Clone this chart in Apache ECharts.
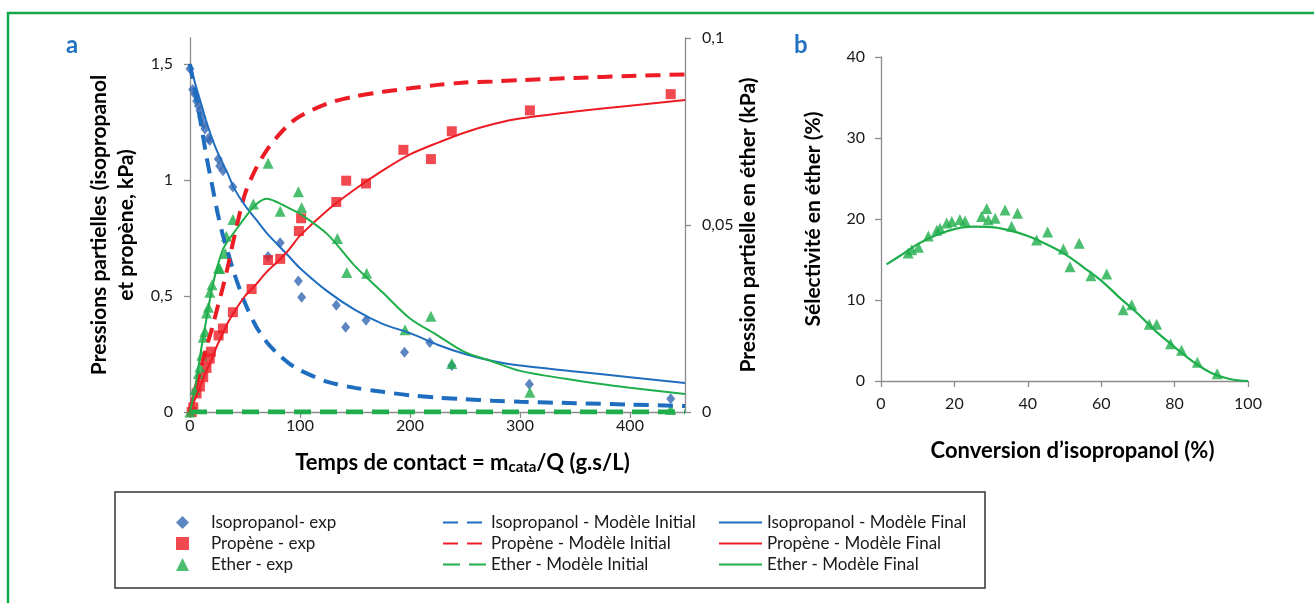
<!DOCTYPE html>
<html><head><meta charset="utf-8">
<script src="https://cdn.jsdelivr.net/npm/echarts@6/dist/echarts.min.js"></script>
<style>html,body{margin:0;padding:0;background:#fff}#c{width:1314px;height:603px}</style>
</head><body><div id="c"></div>
<script>
// ---------- Panel a : experimental points ----------
const isoExpT = [0, 2.4, 4.5, 6, 7.6, 9, 10.6, 12, 13.6, 16.7, 18, 25.7, 27, 30, 39, 71, 82, 98.5, 101.5, 133, 141.5, 160, 195, 218, 238, 308.5, 437];
const isoExpP = [1.48, 1.39, 1.37, 1.34, 1.32, 1.30, 1.27, 1.24, 1.22, 1.18, 1.17, 1.09, 1.06, 1.04, 0.97, 0.67, 0.73, 0.565, 0.495, 0.46, 0.365, 0.395, 0.257, 0.30, 0.20, 0.12, 0.057];
const propExpT = [1.5, 3, 6, 9, 12, 15, 18, 19, 26, 30, 39, 56, 71, 82, 99, 101, 133, 142, 160, 194, 219, 238, 309, 437];
const propExpP = [0, 0.02, 0.08, 0.11, 0.15, 0.19, 0.23, 0.26, 0.33, 0.36, 0.43, 0.53, 0.655, 0.66, 0.78, 0.835, 0.905, 0.997, 0.985, 1.13, 1.09, 1.21, 1.30, 1.37];
const ethExpT = [0, 4.5, 7.6, 9, 10.6, 12, 13.6, 15, 16.7, 18, 20, 26, 27, 32, 33, 39, 57.6, 71, 82, 98.5, 101.5, 134, 142.5, 160.6, 195.5, 219, 238, 309, 437];
const ethExpE = [0, 0.006, 0.0103, 0.012, 0.0152, 0.020, 0.0215, 0.0265, 0.028, 0.032, 0.034, 0.0385, 0.0384, 0.0424, 0.047, 0.0515, 0.0556, 0.0665, 0.0537, 0.0589, 0.0547, 0.0464, 0.0373, 0.0371, 0.022, 0.0256, 0.013, 0.0053, 0.0007];

// ---------- Panel a : model curves ----------
const modelT = [0, 5, 10, 15, 20, 25, 30, 35, 40, 50, 60, 70, 80, 90, 100, 125, 150, 175, 200, 225, 250, 275, 300, 350, 400, 450];
const isoFinal  = [1.5, 1.41, 1.33, 1.25, 1.18, 1.12, 1.07, 1.02, 0.965, 0.89, 0.83, 0.77, 0.72, 0.67, 0.62, 0.52, 0.44, 0.38, 0.34, 0.29, 0.25, 0.22, 0.20, 0.175, 0.15, 0.125];
const isoInit   = [1.5, 1.37, 1.24, 1.10, 0.98, 0.86, 0.76, 0.68, 0.60, 0.47, 0.37, 0.30, 0.25, 0.21, 0.18, 0.13, 0.104, 0.087, 0.072, 0.062, 0.055, 0.049, 0.044, 0.038, 0.032, 0.026];
const propFinal = [0, 0.06, 0.12, 0.18, 0.23, 0.29, 0.34, 0.39, 0.43, 0.50, 0.55, 0.605, 0.65, 0.70, 0.76, 0.87, 0.96, 1.04, 1.11, 1.16, 1.205, 1.24, 1.265, 1.295, 1.32, 1.345];
const propInit  = [0, 0.10, 0.19, 0.28, 0.36, 0.45, 0.54, 0.64, 0.75, 0.94, 1.05, 1.13, 1.19, 1.24, 1.275, 1.33, 1.36, 1.38, 1.395, 1.41, 1.42, 1.425, 1.43, 1.44, 1.448, 1.455];
const ethFinal  = [0, 0.007, 0.0165, 0.025, 0.033, 0.039, 0.0435, 0.046, 0.048, 0.052, 0.0555, 0.057, 0.056, 0.0545, 0.053, 0.0475, 0.039, 0.032, 0.025, 0.0205, 0.016, 0.0135, 0.011, 0.0085, 0.0065, 0.0048];
const ethInit   = [0, 0, 0, 0, 0, 0, 0, 0, 0, 0, 0, 0, 0, 0, 0, 0, 0, 0, 0, 0, 0, 0, 0, 0, 0, 0];

// ---------- Panel b ----------
const convExp = [7.4, 8.4, 10.2, 12.9, 15.2, 16.1, 17.9, 19.3, 21.5, 22.9, 27.4, 28.8, 29.2, 31.1, 33.8, 35.6, 37.2, 42.4, 45.4, 49.7, 51.5, 54, 57.2, 61.5, 66.0, 68.3, 73.1, 75.1, 78.9, 81.9, 86.2, 91.6];
const selExp  = [15.8, 16.2, 16.5, 17.9, 18.6, 18.85, 19.5, 19.7, 19.95, 19.75, 20.3, 21.3, 19.9, 20.1, 21.1, 19.1, 20.7, 17.4, 18.4, 16.3, 14.1, 17.0, 13.0, 13.2, 8.8, 9.4, 7.0, 7.0, 4.6, 3.8, 2.3, 0.9];
const convModel = [1.5, 5, 10, 15, 20, 25, 30, 35, 40, 45, 50, 55, 60, 65, 70, 75, 80, 85, 90, 95, 100];
const selModel  = [14.4, 15.4, 16.9, 18.0, 18.75, 19.05, 19.0, 18.6, 17.9, 16.9, 15.7, 14.1, 12.4, 10.3, 8.3, 6.1, 4.2, 2.4, 1.0, 0.25, 0];

// ---------- tick labels ----------
const aXTicks = [0, 100, 200, 300, 400];
const aYLeftTicks = [0, 0.5, 1, 1.5];
const aYRightTicks = [0, 0.05, 0.1];

const zip = (a, b) => a.map((v, i) => [v, b[i]]);
const comma = v => String(v).replace('.', ',');

const BLUE = '#1f6dbf', BLUE_M = '#3567b3', RED = '#ed1c24', GREEN = '#1fae4b';
const FONT = 'Lato';
const AX = '#8c8c8c';
const lblStyle = { color: '#1a1a1a', fontSize: 16, fontFamily: FONT };
const nameStyleL = { color: '#000', fontSize: 21, fontWeight: 'bold', fontFamily: FONT, lineHeight: 27 };
const nameStyle = { color: '#000', fontSize: 21, fontWeight: 'bold', fontFamily: FONT };
const axisBase = {
  axisLine: { show: true, lineStyle: { color: AX, width: 1.3 } },
  axisTick: { show: true, length: 6, lineStyle: { color: AX, width: 1.3 } },
  splitLine: { show: false }
};

const chart = echarts.init(document.getElementById('c'), null, { renderer: 'canvas' });

const names = {
  isoE: 'Isopropanol- exp', propE: 'Propène - exp', ethE: 'Ether - exp',
  isoI: 'Isopropanol - Modèle Initial', propI: 'Propène - Modèle Initial', ethI: 'Ether - Modèle Initial',
  isoF: 'Isopropanol - Modèle Final', propF: 'Propène - Modèle Final', ethF: 'Ether - Modèle Final'
};

const legendText = { color: '#1a1a1a', fontSize: 17, fontFamily: FONT };

chart.setOption({
  animation: false,
  backgroundColor: '#fff',
  graphic: [
    { type: 'rect', shape: { x: 8, y: 13, width: 1330, height: 640 }, style: { fill: 'none', stroke: '#10a84a', lineWidth: 2.5 }, z: 100 },
    { type: 'rect', shape: { x: 115, y: 492, width: 870, height: 96 }, style: { fill: 'none', stroke: '#333', lineWidth: 1.5 }, z: 100 },
    { type: 'text', left: 66, top: 33, style: { text: 'a', fill: '#2472c0', font: 'bold 24px ' + FONT }, z: 100 },
    { type: 'text', left: 794, top: 33, style: { text: 'b', fill: '#2472c0', font: 'bold 24px ' + FONT }, z: 100 }
  ],
  legend: [
    { orient: 'vertical', left: 171, top: 509, itemWidth: 13, itemHeight: 13, itemGap: 4, selectedMode: false,
      textStyle: Object.assign({ padding: [0, 0, 0, 17] }, legendText),
      data: [{ name: names.isoE, icon: 'diamond' }, { name: names.propE, icon: 'rect' }, { name: names.ethE, icon: 'triangle' }] },
    { orient: 'vertical', left: 437, top: 509, itemWidth: 43, itemHeight: 14, itemGap: 4, selectedMode: false, textStyle: legendText,
      itemStyle: { opacity: 0 }, data: [names.isoI, names.propI, names.ethI] },
    { orient: 'vertical', left: 713, top: 509, itemWidth: 43, itemHeight: 14, itemGap: 4, selectedMode: false, textStyle: legendText,
      itemStyle: { opacity: 0 }, data: [names.isoF, names.propF, names.ethF] }
  ],
  grid: [
    { left: 190, right: 629, top: 38, bottom: 191, containLabel: false },
    { left: 881, right: 66, top: 57, bottom: 222, containLabel: false }
  ],
  xAxis: [
    Object.assign({}, axisBase, {
      type: 'value', gridIndex: 0, min: 0, max: 450,
      axisLabel: Object.assign({ customValues: aXTicks, margin: 6 }, lblStyle),
      axisTick: Object.assign({}, axisBase.axisTick, { customValues: aXTicks }),
      name: '{b|Temps de contact = m}{s|cata}{b|/Q (g.s/L)}', nameLocation: 'middle', nameGap: 38,
      nameTextStyle: { padding: [0, 0, 0, 50], rich: {
        b: { fontSize: 22, fontWeight: 'bold', fontFamily: FONT, color: '#000' },
        s: { fontSize: 15, fontWeight: 'bold', fontFamily: FONT, color: '#000', padding: [10, 0, 0, 0] } } }
    }),
    Object.assign({}, axisBase, {
      type: 'value', gridIndex: 1, min: 0, max: 100, interval: 20,
      axisLabel: Object.assign({ margin: 15 }, lblStyle),
      name: 'Conversion d’isopropanol (%)', nameLocation: 'middle', nameGap: 59,
      nameTextStyle: Object.assign({ padding: [0, 0, 0, 16] }, nameStyle, { fontSize: 22 })
    })
  ],
  yAxis: [
    Object.assign({}, axisBase, {
      type: 'value', gridIndex: 0, min: 0, max: 1.612, position: 'left',
      axisLabel: Object.assign({ customValues: aYLeftTicks, margin: 17, formatter: v => comma(v) }, lblStyle),
      axisTick: Object.assign({}, axisBase.axisTick, { customValues: aYLeftTicks }),
      name: 'Pressions partielles (isopropanol\net propène, kPa)', nameLocation: 'middle', nameGap: 50, nameRotate: 90,
      nameTextStyle: nameStyleL
    }),
    Object.assign({}, axisBase, {
      type: 'value', gridIndex: 0, min: 0, max: 0.1, position: 'right',
      axisLabel: Object.assign({ customValues: aYRightTicks, margin: 17, formatter: v => comma(v) }, lblStyle),
      axisTick: Object.assign({}, axisBase.axisTick, { customValues: aYRightTicks }),
      name: 'Pression partielle en éther (kPa)', nameLocation: 'middle', nameGap: 52, nameRotate: 90,
      nameTextStyle: nameStyle
    }),
    Object.assign({}, axisBase, {
      type: 'value', gridIndex: 1, min: 0, max: 40, interval: 10,
      axisLabel: Object.assign({ margin: 16 }, lblStyle),
      name: 'Sélectivité en éther (%)', nameLocation: 'middle', nameGap: 57, nameRotate: 90,
      nameTextStyle: nameStyle
    })
  ],
  series: [
    { name: names.isoI, type: 'line', xAxisIndex: 0, yAxisIndex: 0, data: zip(modelT, isoInit), symbol: 'none', smooth: 0.3,
      lineStyle: { color: BLUE, width: 4, type: [15, 9] }, itemStyle: { color: BLUE } },
    { name: names.propI, type: 'line', xAxisIndex: 0, yAxisIndex: 0, data: zip(modelT, propInit), symbol: 'none', smooth: 0.3,
      lineStyle: { color: RED, width: 4, type: [15, 9] }, itemStyle: { color: RED } },
    { name: names.ethI, type: 'line', xAxisIndex: 0, yAxisIndex: 1, data: zip(modelT, ethInit), symbol: 'none',
      lineStyle: { color: GREEN, width: 5, type: [17, 9] }, itemStyle: { color: GREEN } },
    { name: names.isoF, type: 'line', xAxisIndex: 0, yAxisIndex: 0, data: zip(modelT, isoFinal), symbol: 'none', smooth: 0.3,
      lineStyle: { color: BLUE, width: 2 }, itemStyle: { color: BLUE } },
    { name: names.propF, type: 'line', xAxisIndex: 0, yAxisIndex: 0, data: zip(modelT, propFinal), symbol: 'none', smooth: 0.3,
      lineStyle: { color: RED, width: 2 }, itemStyle: { color: RED } },
    { name: names.ethF, type: 'line', xAxisIndex: 0, yAxisIndex: 1, data: zip(modelT, ethFinal), symbol: 'none', smooth: 0.3,
      lineStyle: { color: GREEN, width: 2 }, itemStyle: { color: GREEN } },
    { name: names.isoE, type: 'scatter', xAxisIndex: 0, yAxisIndex: 0, data: zip(isoExpT, isoExpP), symbol: 'diamond', symbolSize: [9, 11],
      itemStyle: { color: BLUE_M } },
    { name: names.propE, type: 'scatter', xAxisIndex: 0, yAxisIndex: 0, data: zip(propExpT, propExpP), symbol: 'rect', symbolSize: 10,
      itemStyle: { color: RED } },
    { name: names.ethE, type: 'scatter', xAxisIndex: 0, yAxisIndex: 1, data: zip(ethExpT, ethExpE), symbol: 'triangle', symbolSize: 11,
      itemStyle: { color: GREEN } },
    { name: 'Sélectivité - modèle', type: 'line', xAxisIndex: 1, yAxisIndex: 2, data: zip(convModel, selModel), symbol: 'none', smooth: 0.4,
      lineStyle: { color: GREEN, width: 2.2 } },
    { name: 'Sélectivité - exp', type: 'scatter', xAxisIndex: 1, yAxisIndex: 2, data: zip(convExp, selExp), symbol: 'triangle', symbolSize: 11,
      itemStyle: { color: GREEN } }
  ]
});
</script>
</body></html>
